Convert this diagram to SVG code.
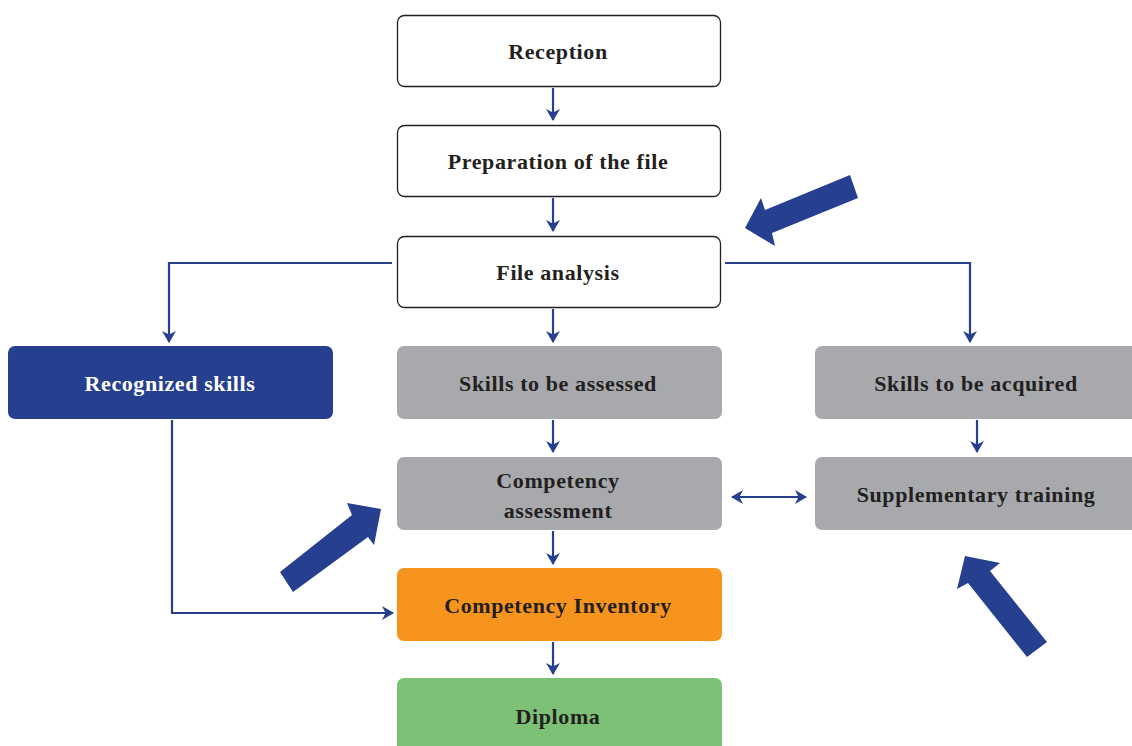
<svg xmlns="http://www.w3.org/2000/svg" width="1132" height="746" viewBox="0 0 1132 746">
<style>
.box{stroke-width:1.3}
.white{fill:#fff;stroke:#231f20}
.blue{fill:#263f8e}
.gray{fill:#a7a9ac}
.orange{fill:#f7941d}
.green{fill:#7dc176}
text{font-family:"Liberation Serif","Times New Roman",serif;font-weight:bold;font-size:22px;letter-spacing:0.6px;fill:#231f20;text-anchor:middle}
text.w{fill:#fff}
.conn{fill:none;stroke:#263f8e;stroke-width:2.2}
.big{fill:#263f8e}
</style>
<defs>
<marker id="ah" viewBox="0 0 12 14" refX="11" refY="7" markerWidth="12" markerHeight="14" markerUnits="userSpaceOnUse" orient="auto-start-reverse">
<path d="M0,0 L12,7 L0,14 L3.5,7 z" fill="#263f8e"/>
</marker>
</defs>
<g id="connectors">
<line class="conn" x1="553" y1="88" x2="553" y2="120" marker-end="url(#ah)"/>
<line class="conn" x1="553" y1="198" x2="553" y2="231" marker-end="url(#ah)"/>
<line class="conn" x1="553" y1="309" x2="553" y2="342" marker-end="url(#ah)"/>
<line class="conn" x1="553" y1="420" x2="553" y2="452" marker-end="url(#ah)"/>
<line class="conn" x1="553" y1="531" x2="553" y2="564" marker-end="url(#ah)"/>
<line class="conn" x1="553" y1="642" x2="553" y2="674" marker-end="url(#ah)"/>
<polyline class="conn" points="392,263 169,263 169,342" marker-end="url(#ah)"/>
<polyline class="conn" points="725,263 970,263 970,342" marker-end="url(#ah)"/>
<polyline class="conn" points="172,420 172,613 393,613" marker-end="url(#ah)"/>
<line class="conn" x1="977" y1="420" x2="977" y2="452" marker-end="url(#ah)"/>
<line class="conn" x1="732" y1="497" x2="806" y2="497" marker-start="url(#ah)" marker-end="url(#ah)"/>
</g>
<g id="big-arrows">
<polygon class="big" points="745,228 761,198 765,210 850,175 858,198 772,233 775,246"/>
<polygon class="big" points="381,509 347,503 352,515 280,572 293,592 368,537 374,545"/>
<polygon class="big" points="965,556 1000,563 990,571 1047,642 1027,657 968,583 957,589"/>
</g>
<g id="reception"><rect class="box white" x="397.5" y="15.5" width="323" height="71" rx="7"/><text x="558" y="59">Reception</text></g>
<g id="preparation"><rect class="box white" x="397.5" y="125.5" width="323" height="71" rx="7"/><text x="558" y="169">Preparation of the file</text></g>
<g id="file-analysis"><rect class="box white" x="397.5" y="236.5" width="323" height="71" rx="7"/><text x="558" y="280">File analysis</text></g>
<g id="recognized-skills"><rect class="blue" x="8" y="346" width="325" height="73" rx="7"/><text class="w" x="170" y="391">Recognized skills</text></g>
<g id="skills-assessed"><rect class="gray" x="397" y="346" width="325" height="73" rx="7"/><text x="558" y="391">Skills to be assessed</text></g>
<g id="skills-acquired"><rect class="gray" x="815" y="346" width="330" height="73" rx="7"/><text x="976" y="391">Skills to be acquired</text></g>
<g id="competency-assessment"><rect class="gray" x="397" y="457" width="325" height="73" rx="7"/><text x="558" y="488">Competency</text><text x="558" y="518">assessment</text></g>
<g id="supplementary-training"><rect class="gray" x="815" y="457" width="330" height="73" rx="7"/><text x="976" y="502">Supplementary training</text></g>
<g id="competency-inventory"><rect class="orange" x="397" y="568" width="325" height="73" rx="7"/><text x="558" y="613">Competency Inventory</text></g>
<g id="diploma"><rect class="green" x="397" y="678" width="325" height="80" rx="7"/><text x="558" y="724">Diploma</text></g>
</svg>
